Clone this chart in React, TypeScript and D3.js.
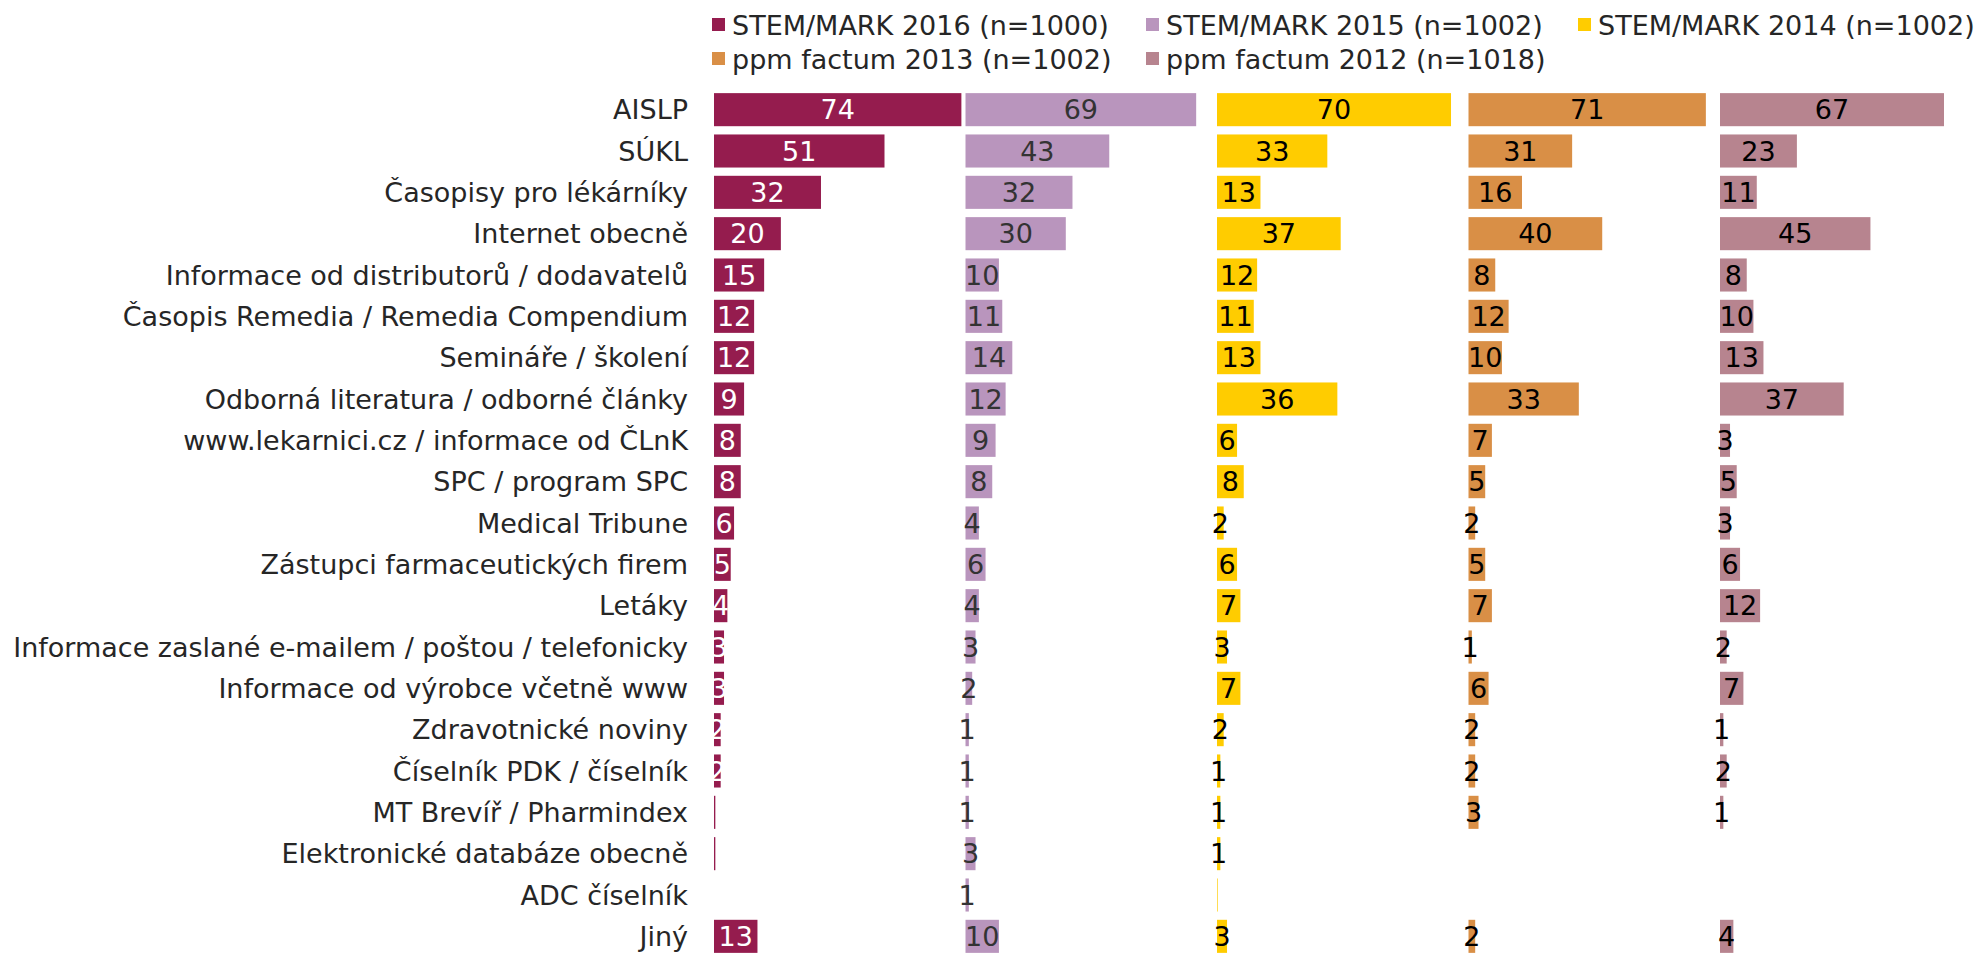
import React from 'react';
import * as d3 from 'd3';

// categories top to bottom
const categories = [
  'AISLP',
  'SÚKL',
  'Časopisy pro lékárníky',
  'Internet obecně',
  'Informace od distributorů / dodavatelů',
  'Časopis Remedia / Remedia Compendium',
  'Semináře / školení',
  'Odborná literatura / odborné články',
  'www.lekarnici.cz / informace od ČLnK',
  'SPC / program SPC',
  'Medical Tribune',
  'Zástupci farmaceutických firem',
  'Letáky',
  'Informace zaslané e-mailem / poštou / telefonicky',
  'Informace od výrobce včetně www',
  'Zdravotnické noviny',
  'Číselník PDK / číselník',
  'MT Brevíř / Pharmindex',
  'Elektronické databáze obecně',
  'ADC číselník',
  'Jiný',
];

const seriesNames = [
  'STEM/MARK 2016 (n=1000)',
  'STEM/MARK 2015 (n=1002)',
  'STEM/MARK 2014 (n=1002)',
  'ppm factum 2013 (n=1002)',
  'ppm factum 2012 (n=1018)',
];

const stem2016 = [74, 51, 32, 20, 15, 12, 12, 9, 8, 8, 6, 5, 4, 3, 3, 2, 2, 0.4, 0.4, null, 13];
const stem2015 = [69, 43, 32, 30, 10, 11, 14, 12, 9, 8, 4, 6, 4, 3, 2, 1, 1, 1, 3, 1, 10];
const stem2014 = [70, 33, 13, 37, 12, 11, 13, 36, 6, 8, 2, 6, 7, 3, 7, 2, 1, 1, 1, 0.2, 3];
const ppm2013 = [71, 31, 16, 40, 8, 12, 10, 33, 7, 5, 2, 5, 7, 1, 6, 2, 2, 3, null, null, 2];
const ppm2012 = [67, 23, 11, 45, 8, 10, 13, 37, 3, 5, 3, 6, 12, 2, 7, 1, 2, 1, null, null, 4];

const seriesValues = [stem2016, stem2015, stem2014, ppm2013, ppm2012];

const colors = ['#951c4e', '#b995bd', '#ffcc00', '#d98f46', '#b7848f'];
const labelColors = ['#ffffff', '#333333', '#000000', '#000000', '#000000'];

const W = 1978;
const H = 953;
const FONT = '"DejaVu Sans", Verdana, sans-serif';
const FS = 27;

export default function App() {
  const panel = d3
    .scaleBand<number>()
    .domain(d3.range(seriesNames.length))
    .range([714, 714 + 5 * 251.5])
    .padding(0);

  const x = d3.scaleLinear().domain([0, 75.23]).range([0, panel.bandwidth()]);

  const y = d3
    .scaleBand<string>()
    .domain(categories)
    .range([89, 957])
    .paddingInner(0.2)
    .paddingOuter(0.1);

  const legendPos = [
    { x: 712, y: 25 },
    { x: 1146, y: 25 },
    { x: 1578, y: 25 },
    { x: 712, y: 59 },
    { x: 1146, y: 59 },
  ];

  return (
    <svg
      width={W}
      height={H}
      style={{ position: 'absolute', left: 0, top: 0, background: '#fff' }}
      fontFamily={FONT}
      fontSize={FS}
    >
      {/* legend */}
      {seriesNames.map((name, i) => (
        <g key={name} transform={`translate(${legendPos[i].x},${legendPos[i].y})`}>
          <rect x={0} y={-7} width={13} height={13} fill={colors[i]} />
          <text x={20} y={0} dominantBaseline="central" fill="#262626">
            {name}
          </text>
        </g>
      ))}

      {/* category labels */}
      {categories.map((c) => (
        <text
          key={c}
          x={688}
          y={(y(c) ?? 0) + y.bandwidth() / 2}
          textAnchor="end"
          dominantBaseline="central"
          fill="#262626"
        >
          {c}
        </text>
      ))}

      {/* bars */}
      {seriesValues.map((vals, si) => (
        <g key={si} transform={`translate(${panel(si)},0)`}>
          {vals.map((v, ci) =>
            v == null ? null : (
              <rect
                key={ci}
                x={0}
                y={y(categories[ci])}
                width={x(v)}
                height={y.bandwidth()}
                fill={colors[si]}
              />
            )
          )}
        </g>
      ))}

      {/* value labels */}
      {seriesValues.map((vals, si) => (
        <g key={'l' + si} transform={`translate(${panel(si)},0)`}>
          {vals.map((v, ci) =>
            v == null || Math.round(v) === 0 ? null : (
              <text
                key={ci}
                x={x(v) / 2}
                y={(y(categories[ci]) ?? 0) + y.bandwidth() / 2}
                textAnchor="middle"
                dominantBaseline="central"
                fill={labelColors[si]}
              >
                {d3.format('.0f')(v)}
              </text>
            )
          )}
        </g>
      ))}
    </svg>
  );
}
